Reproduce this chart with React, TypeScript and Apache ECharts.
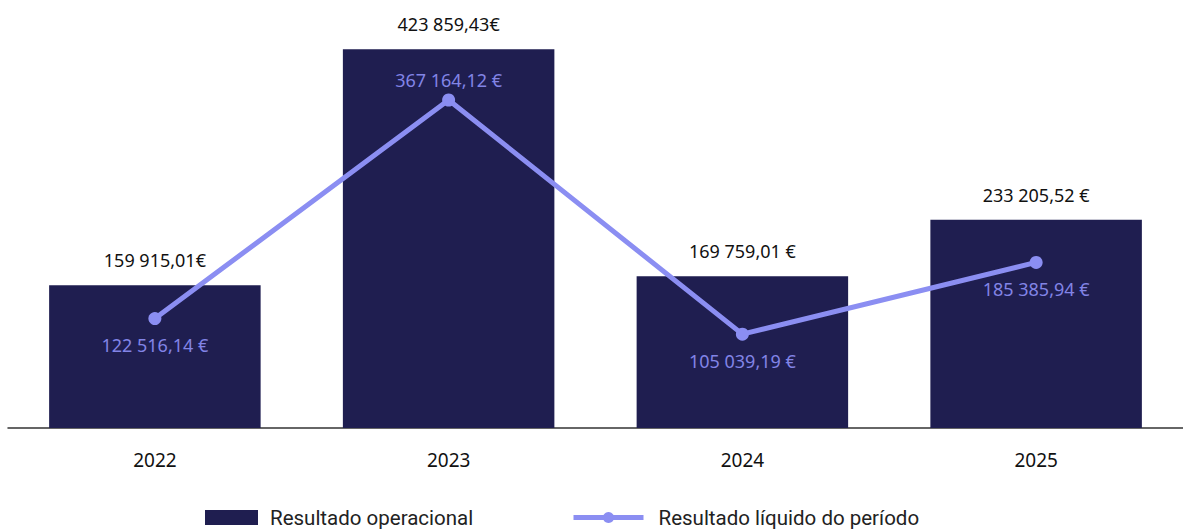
import React, { useEffect, useRef } from "react";
import * as echarts from "echarts";

const categories = ["2022", "2023", "2024", "2025"];
const operacional = [159915.01, 423859.43, 169759.01, 233205.52];
const operacionalLabels = ["159 915,01€", "423 859,43€", "169 759,01 €", "233 205,52 €"];
const liquido = [122516.14, 367164.12, 105039.19, 185385.94];
const liquidoLabels = ["122 516,14 €", "367 164,12 €", "105 039,19 €", "185 385,94 €"];
const liquidoLabelPos = ["bottom", "top", "bottom", "bottom"];

const FONT = "'Noto Sans', 'Open Sans', sans-serif";
const LEGEND_FONT = "Roboto, sans-serif";

export default function App() {
  const ref = useRef<HTMLDivElement>(null);
  useEffect(() => {
    if (!ref.current) return;
    const chart = echarts.init(ref.current, null, { renderer: "svg" });
    chart.setOption({
      animation: false,
      textStyle: { fontFamily: FONT },
      grid: { left: 8, right: -4, top: 26, bottom: 102, containLabel: false },
      legend: [
        {
          data: [{ name: "Resultado operacional", icon: "rect" }],
          left: 205,
          bottom: 2,
          padding: 0,
          itemWidth: 53,
          itemHeight: 15,
          itemGap: 12,
          textStyle: { fontSize: 20.5, color: "#222", fontFamily: LEGEND_FONT, padding: [0, 0, 0, 7] },
        },
        {
          data: ["Resultado líquido do período"],
          left: 571,
          bottom: 2,
          padding: 0,
          itemWidth: 70,
          itemHeight: 14,
          lineStyle: { width: 5, color: "#8B8EF2" },
          textStyle: { fontSize: 20.5, color: "#222", fontFamily: LEGEND_FONT, padding: [0, 0, 0, 10] },
        },
      ],
      xAxis: {
        type: "category",
        data: categories,
        axisLine: { lineStyle: { color: "#333", width: 1.5 } },
        axisTick: { show: false },
        axisLabel: { color: "#111", fontSize: 19, margin: 22, fontFamily: FONT },
      },
      yAxis: {
        type: "value",
        min: 0,
        max: 450000,
        show: false,
        splitLine: { show: false },
      },
      series: [
        {
          name: "Resultado operacional",
          type: "bar",
          data: operacional,
          barWidth: "72%",
          itemStyle: { color: "#1F1E50" },
          label: {
            show: true,
            position: "top",
            distance: 16,
            fontSize: 18,
            color: "#111",
            fontFamily: FONT,
            formatter: (p: any) => operacionalLabels[p.dataIndex],
          },
          z: 1,
        },
        {
          name: "Resultado líquido do período",
          type: "line",
          data: liquido.map((v, i) => ({
            value: v,
            label: {
              position: liquidoLabelPos[i],
              distance: liquidoLabelPos[i] === "top" ? 5 : 11,
            },
          })),
          symbol: "circle",
          symbolSize: 13,
          lineStyle: { color: "#8B8EF2", width: 5 },
          itemStyle: { color: "#8B8EF2" },
          label: {
            show: true,
            fontSize: 18,
            color: "#8284E6",
            fontFamily: FONT,
            formatter: (p: any) => liquidoLabels[p.dataIndex],
          },
          z: 3,
        },
      ],
    });
    return () => chart.dispose();
  }, []);
  return <div ref={ref} style={{ width: 1183, height: 530, position: "absolute", left: 0, top: 0 }} />;
}
